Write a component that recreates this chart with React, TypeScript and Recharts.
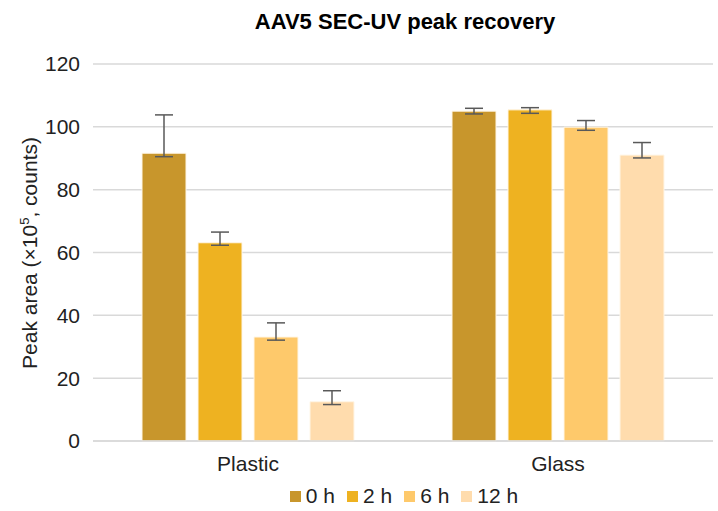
import { Bar, BarChart, CartesianGrid, ErrorBar, Legend, XAxis, YAxis } from 'recharts';

const materiais = ['Plastic', 'Glass'];
const series = ['0 h', '2 h', '6 h', '12 h'];
const cores = ['#C8962C', '#EEB221', '#FEC96B', '#FFDCAD'];
const valores = [
  [91.6, 105.0],
  [63.1, 105.4],
  [33.1, 99.9],
  [12.5, 91.0],
];
// erro [abaixo, acima] de cada barra
const erros = [
  [[1.1, 12.2], [0.9, 0.9]],
  [[0.8, 3.4], [1.1, 0.7]],
  [[1.0, 4.5], [1.0, 2.1]],
  [[0.9, 3.5], [0.9, 4.0]],
];
const ticksY = [0, 20, 40, 60, 80, 100, 120];

const dados = materiais.map((m, i) => {
  const linha: Record<string, unknown> = { material: m };
  series.forEach((s, j) => {
    linha[s] = valores[j][i];
    linha[`${s}_err`] = erros[j][i];
  });
  return linha;
});

const fonte = '"Liberation Sans", Arial, Helvetica, sans-serif';

function Legenda() {
  return (
    <div
      style={{
        display: 'flex',
        justifyContent: 'center',
        gap: 12,
        paddingLeft: 62,
        height: 30,
        alignItems: 'center',
        fontFamily: fonte,
        fontSize: 21,
        color: '#222',
      }}
    >
      {series.map((s, i) => (
        <span key={s} style={{ display: 'flex', alignItems: 'center', gap: 5 }}>
          <span style={{ width: 11, height: 11, background: cores[i], display: 'inline-block' }} />
          {s}
        </span>
      ))}
    </div>
  );
}

function RotuloY() {
  return (
    <text
      transform="translate(37 253) rotate(-90)"
      textAnchor="middle"
      fontFamily={fonte}
      fontSize={21}
      fill="#222"
    >
      Peak area (×10
      <tspan dy={-8} fontSize={13}>5</tspan>
      <tspan dy={8}>, counts)</tspan>
    </text>
  );
}

export default function App() {
  return (
    <div style={{ position: 'absolute', left: 0, top: 0, width: 718, height: 511, background: '#fff' }}>
      <div
        style={{
          position: 'absolute',
          top: 9,
          left: 0,
          width: 718,
          paddingLeft: 92,
          boxSizing: 'border-box',
          textAlign: 'center',
          fontFamily: fonte,
          fontWeight: 'bold',
          fontSize: 22,
          color: '#000',
        }}
      >
        AAV5 SEC-UV peak recovery
      </div>
      <BarChart
        width={718}
        height={511}
        data={dados}
        margin={{ top: 64, right: 5, bottom: 0, left: 33 }}
        barGap={12}
        barCategoryGap={49}
      >
        <CartesianGrid vertical={false} stroke="#D9D9D9" strokeWidth={1.5} />
        <XAxis
          dataKey="material"
          height={40}
          tickLine={false}
          axisLine={{ stroke: '#D9D9D9', strokeWidth: 1.5 }}
          tick={{ fill: '#222', fontSize: 21, fontFamily: fonte }}
          tickMargin={9}
        />
        <YAxis
          width={60}
          domain={[0, 120]}
          ticks={ticksY}
          axisLine={false}
          tickLine={false}
          tick={{ fill: '#222', fontSize: 21, fontFamily: fonte }}
          tickMargin={7}
          label={<RotuloY />}
        />
        <Legend verticalAlign="bottom" content={() => <Legenda />} />
        {series.map((s, i) => (
          <Bar key={s} dataKey={s} fill={cores[i]} stroke="#FFF6E6" strokeWidth={1} isAnimationActive={false}>
            <ErrorBar dataKey={`${s}_err`} width={9} stroke="#595959" strokeWidth={1.5} />
          </Bar>
        ))}
      </BarChart>
    </div>
  );
}
